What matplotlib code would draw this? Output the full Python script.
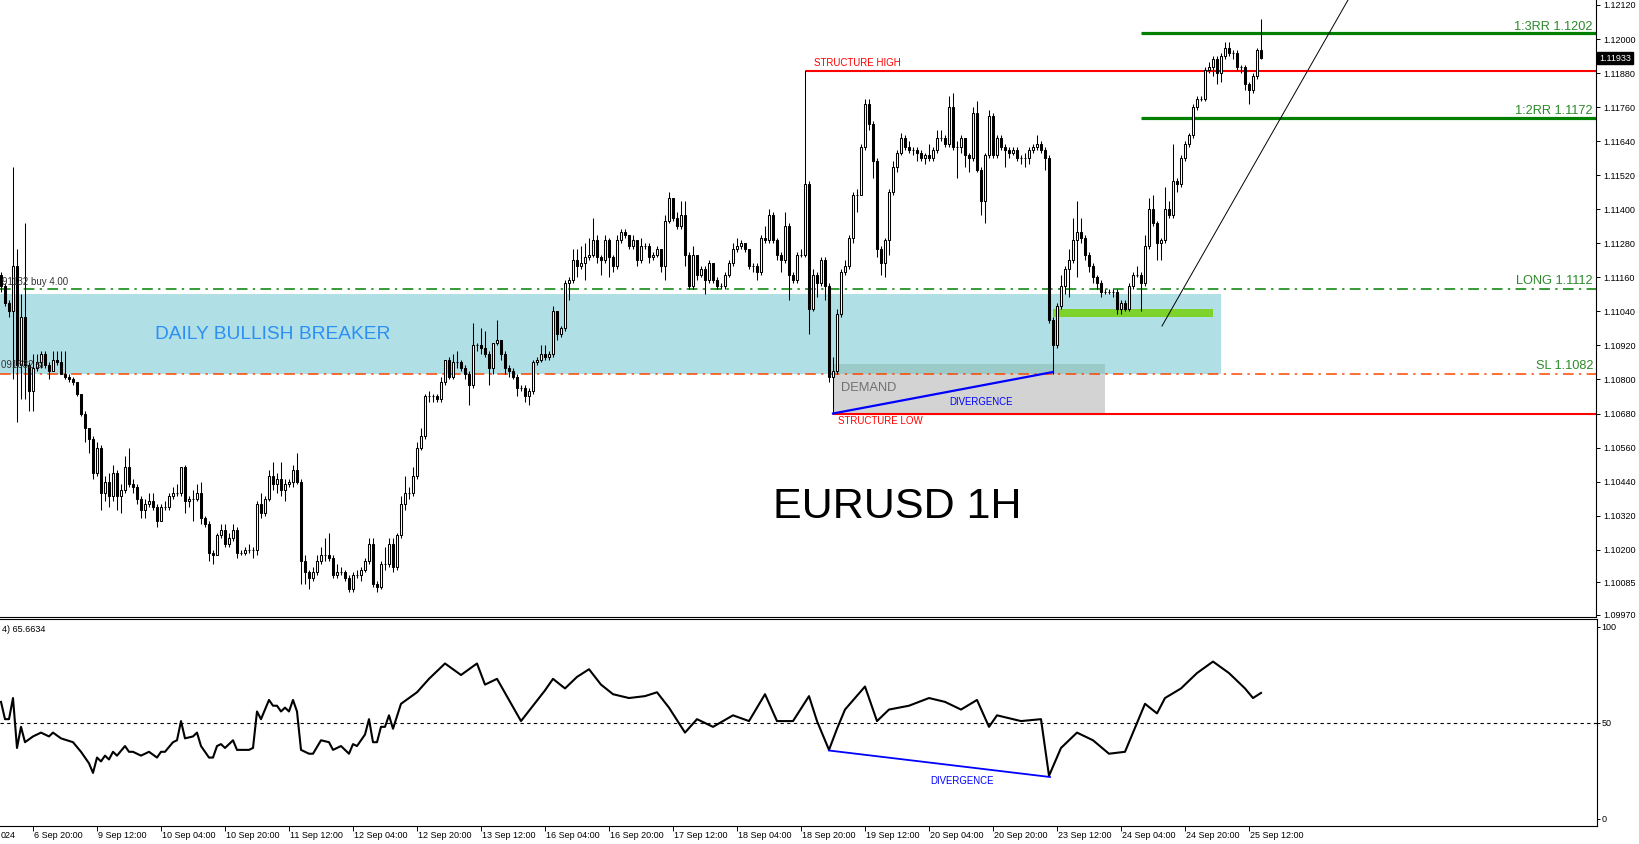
import matplotlib
matplotlib.use("Agg")
import matplotlib.pyplot as plt
from matplotlib.patches import Rectangle
from matplotlib.transforms import blended_transform_factory

W, H = 1639, 844
plt.rcParams['font.family'] = ['Liberation Sans', 'DejaVu Sans']

# ---------------- data (prices in pips above 1.1000) ----------------
BASE = 1.1000
PIP = 0.0001
first_open = 117
close_p = [
    113, 107, 104, 120, 85, 102, 85, 76, 84, 86,
    89, 85, 83, 87, 86, 82, 81, 80, 79, 75,
    68, 63, 59, 47, 56, 40, 44, 39, 47, 39,
    41, 49, 43, 42, 38, 34, 36, 37, 35, 30,
    35, 35, 39, 40, 40, 49, 37, 38, 38, 40,
    31, 29, 19, 18, 25, 27, 22, 24, 27, 19,
    19, 20, 20, 20, 36, 33, 38, 46, 43, 45,
    41, 43, 44, 48, 44, 16, 12, 10, 12, 16,
    18, 18, 17, 11, 12, 12, 10, 6, 11, 11,
    13, 16, 22, 8, 7, 15, 15, 22, 14, 25,
    36, 40, 40, 46, 56, 60, 74, 74, 74, 73,
    79, 87, 81, 86, 86, 84, 82, 78, 92, 92,
    91, 89, 84, 93, 94, 89, 84, 83, 81, 77,
    77, 74, 76, 86, 87, 89, 88, 89, 104, 96,
    98, 114, 115, 122, 120, 121, 123, 124, 129, 123,
    122, 129, 123, 120, 129, 132, 131, 127, 129, 122,
    127, 127, 123, 124, 126, 120, 136, 144, 137, 134,
    138, 124, 113, 124, 117, 119, 115, 121, 115, 113,
    113, 117, 121, 126, 127, 128, 126, 120, 120, 118,
    130, 129, 138, 129, 124, 122, 134, 117, 115, 124,
    124, 149, 105, 117, 114, 122, 113, 81, 83, 103,
    118, 120, 130, 145, 145, 162, 177, 170, 157, 126,
    121, 129, 146, 155, 160, 165, 162, 161, 161, 160,
    158, 159, 158, 161, 165, 165, 163, 176, 162, 162,
    165, 159, 158, 174, 154, 143, 159, 173, 159, 165,
    162, 161, 160, 161, 158, 158, 158, 161, 162, 163,
    161, 158, 101, 92, 106, 113, 119, 122, 129, 132,
    130, 124, 120, 116, 114, 111, 111, 111, 111, 105,
    107, 105, 113, 117, 117, 114, 127, 140, 135, 128,
    129, 140, 138, 150, 149, 158, 163, 166, 176, 179,
    179, 189, 190, 193, 188, 194, 197, 195, 195, 190,
    190, 184, 182, 187, 196, 193.3,
]
high_p = [
    118, 114, 108, 155, 126, 110, 135, 86, 89, 89,
    90, 90, 86, 90, 90, 90, 90, 82, 81, 79,
    75, 69, 63, 60, 58, 57, 46, 47, 50, 48,
    43, 53, 56, 45, 43, 39, 38, 40, 40, 36,
    36, 37, 40, 42, 43, 49, 50, 39, 41, 43,
    44, 32, 30, 20, 26, 29, 29, 26, 29, 28,
    20, 21, 22, 21, 37, 40, 39, 48, 51, 47,
    51, 45, 45, 50, 54, 45, 18, 13, 14, 18,
    21, 24, 26, 18, 15, 14, 13, 11, 12, 13,
    14, 17, 24, 24, 9, 16, 21, 24, 24, 26,
    39, 46, 42, 49, 58, 63, 75, 76, 75, 75,
    81, 87, 88, 89, 90, 87, 85, 83, 100, 93,
    98, 97, 90, 93, 101, 94, 90, 85, 84, 82,
    78, 78, 77, 87, 88, 92, 92, 90, 106, 104,
    99, 115, 116, 126, 126, 127, 128, 130, 137, 131,
    124, 131, 130, 124, 131, 133, 133, 131, 131, 129,
    130, 128, 128, 125, 127, 126, 138, 146, 144, 139,
    143, 143, 125, 127, 124, 120, 120, 122, 121, 116,
    114, 118, 122, 128, 130, 129, 128, 126, 121, 121,
    131, 134, 140, 139, 130, 125, 139, 135, 118, 125,
    126, 189, 150, 119, 118, 123, 123, 114, 88, 105,
    119, 122, 131, 146, 147, 163, 179, 179, 171, 158,
    127, 130, 147, 157, 161, 167, 166, 164, 162, 162,
    161, 160, 163, 162, 168, 168, 166, 180, 181, 164,
    166, 165, 160, 176, 178, 155, 160, 175, 174, 166,
    166, 163, 162, 162, 162, 159, 160, 162, 163, 166,
    164, 162, 159, 102, 107, 117, 120, 126, 137, 143,
    137, 131, 125, 121, 117, 115, 112, 112, 112, 112,
    108, 108, 114, 118, 120, 118, 131, 144, 145, 136,
    130, 148, 143, 163, 151, 159, 164, 167, 177, 180,
    180, 190, 192, 194, 194, 195, 199, 199, 196, 196,
    191, 191, 185, 188, 197, 207,
]
low_p = [
    111, 106, 102, 80, 65, 73, 73, 69, 69, 83,
    84, 84, 80, 83, 85, 82, 80, 79, 78, 74,
    67, 58, 54, 45, 46, 34, 37, 35, 37, 34,
    33, 40, 42, 40, 36, 31, 31, 35, 34, 28,
    30, 34, 34, 38, 39, 39, 33, 35, 30, 37,
    29, 28, 16, 15, 18, 24, 21, 21, 23, 17,
    18, 18, 19, 17, 18, 31, 32, 37, 41, 40,
    39, 37, 42, 42, 43, 8, 8, 6, 9, 11,
    15, 16, 16, 10, 10, 11, 9, 5, 5, 10,
    9, 12, 15, 7, 5, 6, 13, 14, 12, 13,
    24, 34, 38, 39, 45, 55, 59, 72, 72, 72,
    72, 78, 80, 80, 84, 83, 80, 71, 77, 90,
    89, 88, 78, 82, 92, 87, 82, 81, 80, 74,
    76, 72, 71, 75, 85, 86, 87, 87, 88, 94,
    95, 97, 108, 114, 116, 119, 115, 122, 123, 121,
    117, 121, 116, 118, 119, 128, 130, 126, 126, 120,
    121, 126, 121, 122, 123, 118, 115, 135, 136, 133,
    133, 120, 112, 112, 115, 116, 110, 114, 114, 112,
    112, 112, 116, 120, 125, 126, 125, 119, 118, 115,
    117, 128, 128, 128, 122, 118, 121, 108, 114, 114,
    123, 123, 96, 104, 109, 113, 108, 79, 68, 82,
    102, 117, 119, 128, 139, 145, 161, 168, 151, 123,
    117, 116, 124, 145, 153, 159, 161, 160, 159, 157,
    157, 156, 157, 157, 160, 164, 162, 162, 161, 151,
    160, 155, 153, 157, 153, 138, 135, 158, 158, 158,
    161, 155, 158, 159, 157, 156, 155, 156, 160, 161,
    160, 154, 100, 82, 91, 105, 110, 109, 121, 116,
    128, 122, 118, 114, 112, 109, 110, 110, 109, 103,
    103, 104, 104, 112, 116, 104, 113, 126, 134, 122,
    122, 128, 137, 137, 146, 148, 157, 162, 165, 175,
    178, 178, 188, 187, 184, 185, 193, 194, 193, 189,
    188, 182, 177, 181, 186, 193,
]

# RSI(14): (bar index, value)
rsi_bar = [0, 1, 2, 3, 4, 5, 6, 8, 10, 12, 13, 15, 18, 20, 22, 23, 24, 25, 26, 27,
           28, 29, 31, 32, 33, 35, 37, 39, 40, 41, 43, 44, 45, 46, 48, 49, 50, 52, 53, 54,
           55, 56, 58, 59, 62, 63, 64, 65, 67, 68, 69, 70, 71, 72, 73, 74, 75, 77, 78, 80,
           82, 83, 85, 86, 87, 88, 89, 91, 92, 93, 94, 95, 96, 97, 98, 100,
           104, 107, 111, 115, 119, 121, 124, 127, 130, 133, 136, 138, 141, 144, 147, 150,
           153, 157, 161, 164, 167, 171, 174, 178, 183, 187, 191, 194, 198, 202, 204, 207,
           209, 211, 216, 219, 222, 227, 232, 236, 240, 244, 247, 249, 255, 260, 262, 265,
           269, 273, 277, 281, 283, 286, 289, 291, 295, 299, 303, 307, 311, 313, 315]
rsi_val = [61, 52, 52, 63, 37, 48, 40, 43, 45, 43, 45, 42, 40, 35, 29, 24, 32, 30, 33, 31,
           35, 33, 38, 35, 35, 33, 35, 32, 35, 35, 40, 41, 51, 42, 43, 45, 38, 32, 32, 38,
           39, 37, 41, 36, 36, 37, 56, 52, 62, 59, 59, 56, 58, 56, 62, 56, 36, 34, 34, 41,
           40, 36, 38, 36, 34, 39, 38, 44, 52, 40, 40, 48, 48, 54, 47, 60,
           66, 73, 81, 75, 81, 70, 73, 62, 51, 59, 67, 73, 68, 74, 78, 70,
           65, 63, 64, 66, 58, 45, 52, 48, 54, 51, 65, 51, 51, 64, 51, 36,
           47, 57, 69, 51, 57, 59, 63, 61, 57, 62, 48, 54, 51, 52, 22.5, 37,
           45, 41, 34, 35, 45, 60, 55, 63, 68, 76, 82, 76, 68, 63, 65.66]

time_labels = ["6 Sep 20:00", "9 Sep 12:00", "10 Sep 04:00", "10 Sep 20:00", "11 Sep 12:00",
               "12 Sep 04:00", "12 Sep 20:00", "13 Sep 12:00", "16 Sep 04:00", "16 Sep 20:00",
               "17 Sep 12:00", "18 Sep 04:00", "18 Sep 20:00", "19 Sep 12:00", "20 Sep 04:00",
               "20 Sep 20:00", "23 Sep 12:00", "24 Sep 04:00", "24 Sep 20:00", "25 Sep 12:00"]
time_label_bars = [8, 24, 40, 56, 72, 88, 104, 120, 136, 152, 168, 184, 200, 216, 232,
                   248, 264, 280, 296, 312]
price_ticks = [1.12120, 1.12000, 1.11880, 1.11760, 1.11640, 1.11520, 1.11400, 1.11280,
               1.11160, 1.11040, 1.10920, 1.10800, 1.10680, 1.10560, 1.10440, 1.10320,
               1.10200, 1.10085, 1.09970]
current_price = 1.11933
rsi_current = 65.6634

# levels / drawn objects
RR3, RR2, STRUCT_HIGH, LONG, SL, STRUCT_LOW = 1.1202, 1.1172, 1.11888, 1.1112, 1.1082, 1.1068
ZONE_TOP, ZONE_BOT = 1.1110, 1.1082
DEMAND_TOP = 1.10854
GREEN_TOP, GREEN_BOT = 1.11048, 1.11020

# ---------------- helpers (pixel -> data, for annotation placement) ----------------
def bx(px):
    return (px - 1) / 4.0

def py(y):
    return 1.12120 - (y - 5) * 0.00003525

def ry(y):
    return (819 - y) / 1.92

fig = plt.figure(figsize=(W / 100, H / 100), dpi=100)
fig.patch.set_facecolor('white')
ax = fig.add_axes([0, 1 - 617 / H, 1596 / W, 617 / H])
ax2 = fig.add_axes([0, 1 - 826 / H, 1597 / W, (826 - 619) / H])

ax.set_xlim(bx(0), bx(1596))
ax.set_ylim(py(617), py(0))
ax2.set_xlim(bx(0), bx(1597))
ax2.set_ylim(ry(826), ry(619))

# ---------------- zones ----------------
ax.add_patch(Rectangle((bx(0), ZONE_BOT), bx(1221) - bx(0), ZONE_TOP - ZONE_BOT,
                       fc='#b0dfe5', ec='none', zorder=0))
ax.add_patch(Rectangle((bx(833), STRUCT_LOW), bx(1105) - bx(833), ZONE_BOT - STRUCT_LOW,
                       fc='#d3d3d3', ec='none', zorder=0))
ax.add_patch(Rectangle((bx(833), ZONE_BOT), bx(1105) - bx(833), DEMAND_TOP - ZONE_BOT,
                       fc='#9ccac8', ec='none', zorder=0))
ax.add_patch(Rectangle((bx(1053), GREEN_BOT), bx(1213) - bx(1053), GREEN_TOP - GREEN_BOT,
                       fc='#7ed22c', ec='none', zorder=1))

# ---------------- horizontal lines ----------------
xr = bx(1596)
ax.hlines([RR3, RR2], bx(1141), xr, colors='#007f00', lw=2.3, zorder=2)
ax.hlines(STRUCT_HIGH, bx(806), xr, colors='#ff0000', lw=1.5, zorder=2)
ax.hlines(STRUCT_LOW, bx(833), xr, colors='#ff0000', lw=1.5, zorder=2)
ax.hlines(LONG, bx(0), xr, colors='#008000', lw=1.1, linestyles=(0, (7, 3.5, 1.5, 3.5)), zorder=2)
ax.hlines(SL, bx(0), xr, colors='#ff4500', lw=1.1, linestyles=(0, (7, 3.5, 1.5, 3.5)), zorder=2)

# divergence & trendline
ax.plot([bx(833), bx(1053)], [STRUCT_LOW, py(372)], color='#0000ff', lw=1.6, zorder=4)
ax.plot([bx(1162), bx(1348)], [py(326), py(0)], color='black', lw=0.7, zorder=4)

# ---------------- candles ----------------
opens = [first_open] + close_p[:-1]
xs = list(range(len(close_p)))
O = [BASE + v * PIP for v in opens]
C = [BASE + v * PIP for v in close_p]
Hh = [BASE + v * PIP for v in high_p]
L = [BASE + v * PIP for v in low_p]
ax.vlines(xs, L, Hh, colors='black', lw=0.75, zorder=3)
bottoms = [min(o, c) for o, c in zip(O, C)]
heights = [abs(c - o) for o, c in zip(O, C)]
faces = ['white' if c >= o else 'black' for o, c in zip(O, C)]
ax.bar(xs, heights, bottom=bottoms, width=0.5, color=faces, edgecolor='black',
       linewidth=0.75, zorder=3.5)

# ---------------- texts ----------------
ax.text(bx(814), py(63), "STRUCTURE HIGH", color='#ff0000', fontsize=7, va='center', ha='left', zorder=6)
ax.text(bx(838), py(421), "STRUCTURE LOW", color='#ff0000', fontsize=7, va='center', ha='left', zorder=6)
ax.text(bx(841), py(388), "DEMAND", color='#707070', fontsize=9.3, va='center', ha='left', zorder=6)
ax.text(bx(949), py(402), "DIVERGENCE", color='#0000ff', fontsize=6.9, va='center', ha='left', zorder=6)
ax.text(bx(155), py(335), "DAILY BULLISH BREAKER", color='#2b90f5', fontsize=13.8, va='center', ha='left', zorder=6)
ax.text(bx(897), py(507), "EURUSD 1H", color='black', fontsize=31, va='center', ha='center', zorder=6)
lbl_kw = dict(color='#2a8a2a', fontsize=9.2, va='center', ha='right', zorder=6)
ax.text(bx(1593), py(27), "1:3RR 1.1202", **lbl_kw)
ax.text(bx(1593), py(111), "1:2RR 1.1172", **lbl_kw)
ax.text(bx(1593), py(281), "LONG 1.1112", **lbl_kw)
ax.text(bx(1593), py(366), "SL 1.1082", **lbl_kw)
ax.text(bx(2), py(282), "91132 buy 4.00", color='#333333', fontsize=7, va='center', ha='left', zorder=6)
ax.text(bx(1), py(365), "091632 sl", color='#333333', fontsize=7, va='center', ha='left', zorder=6)

# ---------------- main axis styling ----------------
for s in ['top', 'left']:
    ax.spines[s].set_visible(False)
ax.spines['right'].set_linewidth(0.8)
ax.spines['bottom'].set_linewidth(0.8)
ax.set_xticks([])
ax.yaxis.set_ticks_position('right')
ax.set_yticks(price_ticks)
ax.set_yticklabels([f"{p:.5f}" for p in price_ticks])
ax.tick_params(axis='y', direction='out', length=3, width=0.7, pad=2, labelsize=6.5, colors='black')
ax.text(1.0 + 3 / 1596, current_price, f"{current_price:.5f}", transform=blended_transform_factory(ax.transAxes, ax.transData),
        color='white', fontsize=6.5, va='center', ha='left', zorder=10, clip_on=False,
        bbox=dict(boxstyle='square,pad=0.18', fc='black', ec='black'))

# ---------------- RSI panel ----------------
ax2.axhline(50, color='black', lw=0.8, ls=(0, (3, 3)), zorder=1)
ax2.plot(rsi_bar, rsi_val, color='black', lw=1.5, zorder=3)
ax2.plot([bx(829), bx(1050)], [ry(750.5), ry(777)], color='#0000ff', lw=1.3, zorder=4)
ax2.text(bx(930), ry(781), "DIVERGENCE", color='#0000ff', fontsize=6.9, va='center', ha='left')
ax2.text(bx(2), ry(629), f"4) {rsi_current:.4f}", color='black', fontsize=6.5, va='center', ha='left')
ax2.spines['left'].set_visible(False)
for s in ['top', 'right', 'bottom']:
    ax2.spines[s].set_linewidth(0.8)
ax2.yaxis.set_ticks_position('right')
ax2.set_yticks([100, 50, 0])
ax2.set_yticklabels(["100", "50", "0"])
ax2.tick_params(axis='y', direction='out', length=2, width=0.7, pad=1, labelsize=6.5, colors='black')
ax2.set_xticks(time_label_bars)
ax2.tick_params(axis='x', direction='out', length=3.5, width=0.7, labelbottom=False)
tr = blended_transform_factory(ax2.transData, ax2.transAxes)
ylab = (826 - 835) / 207
for b, t in zip(time_label_bars, time_labels):
    ax2.text(b + 0.3, ylab, t, transform=tr, fontsize=6.5, va='center', ha='left', clip_on=False)
ax2.text(bx(1), ylab, "024", transform=tr, fontsize=6.5, va='center', ha='left', clip_on=False)

fig.savefig("out.png", dpi=100, facecolor='white')
